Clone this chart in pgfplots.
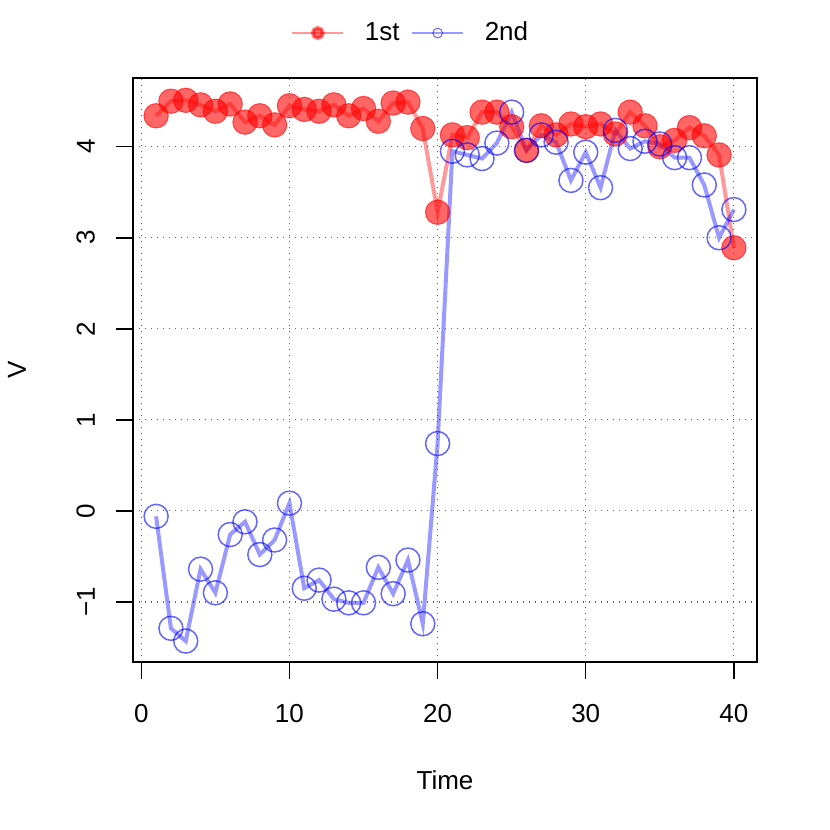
\documentclass[border=0pt]{standalone}
\usepackage{fontspec}
\setmainfont{Liberation Sans}
\usepackage{pgfplots}
\pgfplotsset{compat=1.18}

\pgfplotstableread{
t   first  second
1   4.34   -0.06
2   4.50   -1.29
3   4.51   -1.43
4   4.46   -0.64
5   4.39   -0.90
6   4.47   -0.26
7   4.27   -0.12
8   4.34   -0.48
9   4.24   -0.32
10  4.45    0.085
11  4.41   -0.85
12  4.39   -0.76
13  4.46   -0.97
14  4.34   -1.01
15  4.42   -1.01
16  4.28   -0.62
17  4.48   -0.91
18  4.49   -0.54
19  4.20   -1.24
20  3.28    0.74
21  4.13    3.95
22  4.10    3.91
23  4.38    3.87
24  4.38    4.04
25  4.22    4.38
26  3.96    3.96
27  4.23    4.13
28  4.13    4.05
29  4.25    3.63
30  4.22    3.94
31  4.25    3.55
32  4.14    4.18
33  4.38    3.98
34  4.23    4.06
35  4.00    4.03
36  4.07    3.88
37  4.21    3.88
38  4.12    3.58
39  3.91    3.00
40  2.89    3.31
}\vdata

\newcommand{\rfont}{\fontsize{13bp}{15.6bp}\selectfont}

\begin{document}
\begin{tikzpicture}
\begin{axis}[
  scale only axis, width=312bp, height=292bp,
  xmin=-0.56, xmax=41.56, ymin=-1.66, ymax=4.755,
  axis line style={line width=0.75bp},
  xtick={0,10,20,30,40}, ytick={-1,0,1,2,3,4},
  yticklabels={−1,0,1,2,3,4},
  xtick pos=bottom, ytick pos=left, tick align=outside,
  major tick length=8.5bp,
  tick style={line width=0.75bp, black},
  tick label style={font=\rfont},
  /pgf/number format/assume math mode=true,
  xticklabel style={yshift=-9bp},
  yticklabel style={rotate=90, anchor=south, yshift=7bp},
  grid=major,
  major grid style={black!60, line width=0.6bp, dash pattern=on 0.6bp off 2.4bp},
  every axis x label/.style={at={(axis description cs:0.5,-0.202)}, anchor=center, font=\rfont},
  every axis y label/.style={at={(axis description cs:-0.186,0.5)}, rotate=90, anchor=center, font=\rfont},
  xlabel={Time}, ylabel={V},
  legend style={at={(0.447,1.077)}, anchor=center, draw=none, fill=none,
    font=\rfont, legend columns=2,
    /tikz/every odd column/.append style={column sep=8.5bp},
    /tikz/every even column/.append style={column sep=4bp}},
  legend cell align=left,
]
\addplot[draw=red, draw opacity=0.4, line width=2bp,
  mark=*, mark size=6.1bp,
  mark options={draw=red, draw opacity=0.6, line width=0.5bp, fill=red, fill opacity=0.6},
  legend image code/.code={
    \draw[red, opacity=0.4, line width=0.6bp] (0bp,0bp) -- (25.5bp,0bp);
    \fill[red, opacity=0.5] (12.75bp,0bp) circle (2.5bp);
    \draw[red, opacity=0.6, line width=0.4bp] (12.75bp,0bp) circle (2.5bp);}
] table[x=t, y=first] {\vdata};
\addlegendentry{1st}
\addplot[draw=blue, draw opacity=0.4, line width=2bp,
  mark=o, mark size=6bp,
  mark options={draw=blue, draw opacity=0.6, line width=0.75bp, fill=none},
  legend image code/.code={
    \draw[blue, opacity=0.4, line width=0.6bp] (0bp,0bp) -- (25.5bp,0bp);
    \draw[blue, opacity=0.6, line width=0.5bp] (12.75bp,0bp) circle (2.4bp);}
] table[x=t, y=second] {\vdata};
\addlegendentry{2nd}
\end{axis}
\pgfresetboundingbox
\path (-66.5bp,-84bp) rectangle (348.5bp,331bp);
\end{tikzpicture}
\end{document}
